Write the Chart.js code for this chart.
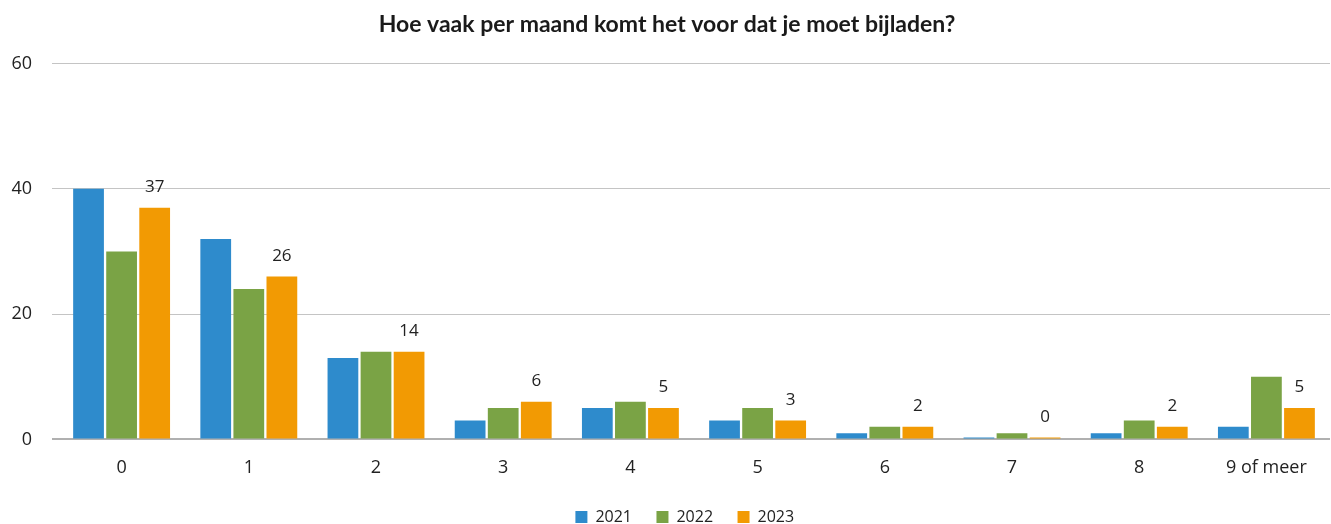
<!DOCTYPE html>
<html>
<head>
<meta charset="utf-8">
<script src="https://cdn.jsdelivr.net/npm/chart.js@4/dist/chart.umd.min.js"></script>
<style>
  html, body { margin: 0; padding: 0; background: #fff; }
  #wrap { width: 1331px; height: 524px; }
</style>
</head>
<body>
<div id="wrap"><canvas id="myChart"></canvas></div>
<script>
var categories = ["0", "1", "2", "3", "4", "5", "6", "7", "8", "9 of meer"];
var values2021 = [40, 32, 13, 3, 5, 3, 1, 0, 1, 2];
var values2022 = [30, 24, 14, 5, 6, 5, 2, 1, 3, 10];
var values2023 = [37, 26, 14, 6, 5, 3, 2, 0, 2, 5];
var yTicks = [0, 20, 40, 60];

var FONT = "'Open Sans'";

// labels only on the 2023 bars, like the original
var labelPlugin = {
  id: "barLabels",
  afterLayout: function (chart) {
    // legend sits a bit right of the canvas centre in the original
    chart.legend.left += 48;
  },
  afterDatasetsDraw: function (chart) {
    var ctx = chart.ctx;
    var meta = chart.getDatasetMeta(2);
    ctx.save();
    ctx.font = "17px " + FONT;
    ctx.fillStyle = "#222";
    ctx.textAlign = "center";
    ctx.textBaseline = "bottom";
    meta.data.forEach(function (bar, i) {
      ctx.fillText(String(values2023[i]), bar.x, bar.y - 12);
    });
    ctx.restore();
  }
};

var ctx = document.getElementById("myChart").getContext("2d");
var myChart = new Chart(ctx, {
  type: "bar",
  data: {
    labels: categories,
    datasets: [
      { label: "2021", data: values2021, backgroundColor: "#2E8BCC", minBarLength: 2 },
      { label: "2022", data: values2022, backgroundColor: "#7AA345", minBarLength: 2 },
      { label: "2023", data: values2023, backgroundColor: "#F29A03", minBarLength: 2 }
    ]
  },
  options: {
    responsive: true,
    maintainAspectRatio: false,
    animation: false,
    devicePixelRatio: 1,
    categoryPercentage: 0.78,
    barPercentage: 0.93,
    layout: { padding: { left: 4, right: 1, top: 4, bottom: -11 } },
    plugins: {
      title: {
        display: true,
        text: "Hoe vaak per maand komt het voor dat je moet bijladen?",
        color: "#1a1a1a",
        font: { family: "Lato", size: 23, weight: "bold" },
        padding: { top: 7, bottom: 25 }
      },
      legend: {
        position: "bottom",
        labels: {
          boxWidth: 12,
          boxHeight: 12,
          padding: 12,
          color: "#222",
          font: { family: FONT, size: 16 },
          generateLabels: function (chart) {
            return Chart.defaults.plugins.legend.labels.generateLabels(chart).map(function (item) {
              item.text = item.text + "   ";
              return item;
            });
          }
        }
      },
      tooltip: { enabled: false }
    },
    scales: {
      x: {
        grid: { display: false, drawTicks: false },
        border: { display: false },
        ticks: { color: "#222", padding: 18, font: { family: FONT, size: 18 } }
      },
      y: {
        min: 0,
        max: 60,
        afterBuildTicks: function (axis) {
          axis.ticks = yTicks.map(function (v) { return { value: v }; });
        },
        afterFit: function (axis) {
          axis.width = 54;
        },
        grid: {
          drawTicks: true,
          tickLength: 6,
          color: function (c) { return c.tick && c.tick.value === 0 ? "#b0b0b0" : "#c4c4c4"; },
          lineWidth: function (c) { return c.tick && c.tick.value === 0 ? 2 : 1; }
        },
        border: { display: false },
        ticks: { color: "#222", padding: 20, font: { family: FONT, size: 18 } }
      }
    }
  },
  plugins: [labelPlugin]
});
</script>
</body>
</html>
